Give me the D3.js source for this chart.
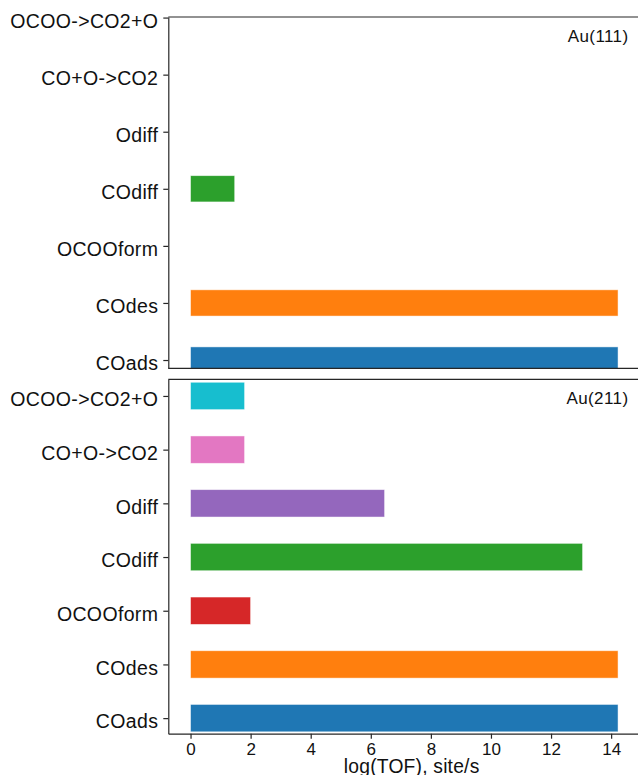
<!DOCTYPE html>
<html>
<head>
<meta charset="utf-8">
<script src="https://cdn.jsdelivr.net/npm/d3@7"></script>
<style>
  html, body { margin: 0; padding: 0; background: #fff; }
  svg { display: block; font-family: "Liberation Sans", Arial, Helvetica, sans-serif; }
</style>
</head>
<body>
<svg id="chart" width="638" height="775"></svg>
<script>
// Elementary steps, listed bottom to top on the y axis
const steps = ["COads", "COdes", "OCOOform", "COdiff", "Odiff", "CO+O->CO2", "OCOO->CO2+O"];
const stepColors = ["#1f77b4", "#ff7f0e", "#d62728", "#2ca02c", "#9467bd", "#e377c2", "#17becf"];

// log10 of turnover frequency per step (site/s)
const au111 = [14.23, 14.23, 0, 1.47, 0, 0, 0];
const au211 = [14.23, 14.23, 2.00, 13.05, 6.46, 1.80, 1.80];

const xTicks = [0, 2, 4, 6, 8, 10, 12, 14];
const xLabel = "log(TOF), site/s";

const svg = d3.select("#chart");
const W = 638;

// Shared horizontal scale; the plot area runs past the right edge of the page
const x = d3.scaleLinear().domain([-0.74, 15.46]).range([168.3, 655]);

const panels = [
  { name: "Au(111)", values: au111, top: 17, bottom: 368.3, dom: [-0.145, 6.01], bar: 0.46, xaxis: false },
  { name: "Au(211)", values: au211, top: 379.3, bottom: 733.7, dom: [-0.29, 6.31], bar: 0.51, xaxis: true }
];

const spine = "#262626";

panels.forEach((p, k) => {
  const y = d3.scaleLinear().domain(p.dom).range([p.bottom, p.top]);
  const g = svg.append("g");

  const clipId = "clip" + k;
  svg.append("clipPath").attr("id", clipId)
    .append("rect")
    .attr("x", x.range()[0]).attr("y", p.top)
    .attr("width", x.range()[1] - x.range()[0]).attr("height", p.bottom - p.top);

  const rows = steps.map((s, i) => ({ step: s, i, v: p.values[i], color: stepColors[i] }))
    .filter(d => d.v > 0);

  g.append("g").attr("clip-path", `url(#${clipId})`)
    .selectAll("rect").data(rows).join("rect")
    .attr("x", x(0))
    .attr("width", d => x(d.v) - x(0))
    .attr("y", d => y(d.i + p.bar / 2))
    .attr("height", d => y(d.i - p.bar / 2) - y(d.i + p.bar / 2))
    .attr("fill", d => d.color)
    .attr("stroke", "#fff")
    .attr("stroke-opacity", 0.6)
    .attr("stroke-width", 0.8);

  // Left axis with step names
  const yAxis = d3.axisLeft(y)
    .tickValues(d3.range(steps.length))
    .tickFormat(i => steps[i])
    .tickSize(5).tickSizeOuter(0).tickPadding(5);
  const ya = g.append("g").attr("transform", `translate(${x.range()[0]},0)`).call(yAxis);
  ya.select(".domain").attr("stroke", spine).attr("stroke-width", 1.2);
  ya.selectAll(".tick line").attr("stroke", spine).attr("stroke-width", 1.2);
  ya.selectAll(".tick text")
    .attr("fill", "#111")
    .attr("font-size", 19.5)
    .attr("dy", "0.5em")
    .style("letter-spacing", "0.35px")
    .style("font-family", "'Liberation Sans', Arial, sans-serif");

  // Top and bottom frame lines
  g.append("line")
    .attr("x1", x.range()[0]).attr("x2", W)
    .attr("y1", p.top).attr("y2", p.top)
    .attr("stroke", spine).attr("stroke-width", 1.2);
  if (!p.xaxis) {
    g.append("line")
      .attr("x1", x.range()[0]).attr("x2", W)
      .attr("y1", p.bottom).attr("y2", p.bottom)
      .attr("stroke", spine).attr("stroke-width", 1.2);
  }

  // Surface label in the upper right corner
  g.append("text")
    .attr("x", 628.5).attr("y", p.top + 24.5)
    .attr("text-anchor", "end")
    .attr("font-size", 17)
    .style("letter-spacing", "0.4px")
    .attr("fill", "#111")
    .text(p.name);

  if (p.xaxis) {
    const xAxis = d3.axisBottom(x).tickValues(xTicks).tickFormat(d3.format("d"))
      .tickSize(5).tickSizeOuter(0).tickPadding(4);
    const xa = g.append("g").attr("transform", `translate(0,${p.bottom})`).call(xAxis);
    xa.select(".domain").attr("stroke", spine).attr("stroke-width", 1.2);
    xa.selectAll(".tick line").attr("stroke", spine).attr("stroke-width", 1.2);
    xa.selectAll(".tick text")
      .attr("fill", "#111")
      .attr("font-size", 17)
      .style("font-family", "'Liberation Sans', Arial, sans-serif");

    g.append("text")
      .attr("x", (x.range()[0] + x.range()[1]) / 2)
      .attr("y", 773)
      .attr("text-anchor", "middle")
      .attr("font-size", 19.3)
      .style("letter-spacing", "0.2px")
      .attr("fill", "#111")
      .text(xLabel);
  }
});
</script>
</body>
</html>
